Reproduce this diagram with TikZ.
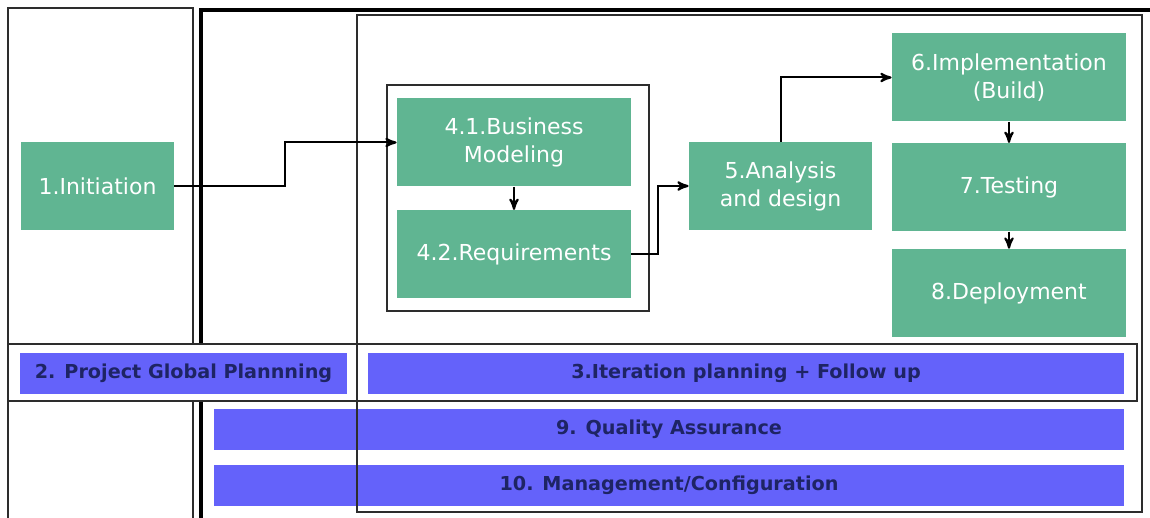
\documentclass[tikz,border=0pt]{standalone}
\usepackage{fontspec}
\setmainfont{DejaVu Sans}
\usetikzlibrary{arrows,positioning}
\definecolor{phasegreen}{RGB}{96,181,146}
\definecolor{bandblue}{RGB}{100,98,250}
\definecolor{bandtext}{RGB}{30,36,100}
\definecolor{framegray}{RGB}{45,45,45}

\begin{document}
\begin{tikzpicture}[x=0.5pt,y=-0.5pt,>=stealth',node distance=10pt,
    phase/.style={fill=phasegreen,text=white,inner sep=0pt,minimum height=44pt,
                  align=center,font=\fontsize{11}{14}\selectfont},
    band/.style={fill=bandblue,text=bandtext,inner sep=0pt,minimum height=20.5pt,
                 font=\fontsize{9.6}{11}\selectfont\bfseries},
    frame/.style={draw=framegray,line width=1.1pt},
    flow/.style={->,line width=1pt}]
  \useasboundingbox (0,0) rectangle (1150,518);

  % planning bands
  \node[band,minimum width=163.5pt] (glob) at (183.5,373.5) {2. Project Global Plannning};
  \node[band,minimum width=378pt]   (iter) at (746,373.5)   {3.Iteration planning + Follow up};
  \node[band,minimum width=455pt]   (qa)   at (669,429)     {9. Quality Assurance};
  \node[band,minimum width=455pt]   (mgmt) at (669,485.5)   {10. Management/Configuration};

  % frames
  \draw[frame] (193,344) -- (193,8) -- (8,8) -- (8,518);
  \draw[frame] (193,401) -- (193,518);
  \draw[line width=2pt] (201,344) -- (201,10) -- (1150,10);
  \draw[line width=2pt] (201,401) -- (201,518);
  \draw[frame] (8,344) rectangle (1137,401);
  \draw[frame] (357,15) rectangle (1142,512);
  \draw[frame] (387,85) rectangle (649,311);

  % phases
  \node[phase,minimum width=76.5pt] (init) at (97.5,186)  {1.Initiation};
  \node[phase,minimum width=117pt]  (bm)   at (514,142.5) {4.1.Business\\Modeling};
  \node[phase,minimum width=117pt]  (req)  [below=11.5pt of bm] {4.2.Requirements};
  \node[phase,minimum width=91.5pt] (ana)  at (780.5,186) {5.Analysis\\and design};
  \node[phase,minimum width=117pt]  (impl) at (1009,77.5) {6.Implementation\\(Build)};
  \node[phase,minimum width=117pt]  (test) [below=10.5pt of impl] {7.Testing};
  \node[phase,minimum width=117pt]  (depl) [below=8.5pt of test]  {8.Deployment};

  % flow
  \draw[flow] (init.east) -- ++(111,0) |- (bm.west);
  \draw[flow] (bm) -- (req);
  \draw[flow] (req.east) -- ++(27,0) |- (ana.west);
  \draw[flow] (ana.north) |- (impl.west);
  \draw[flow] (impl) -- (test);
  \draw[flow] (test) -- (depl);
\end{tikzpicture}
\end{document}
